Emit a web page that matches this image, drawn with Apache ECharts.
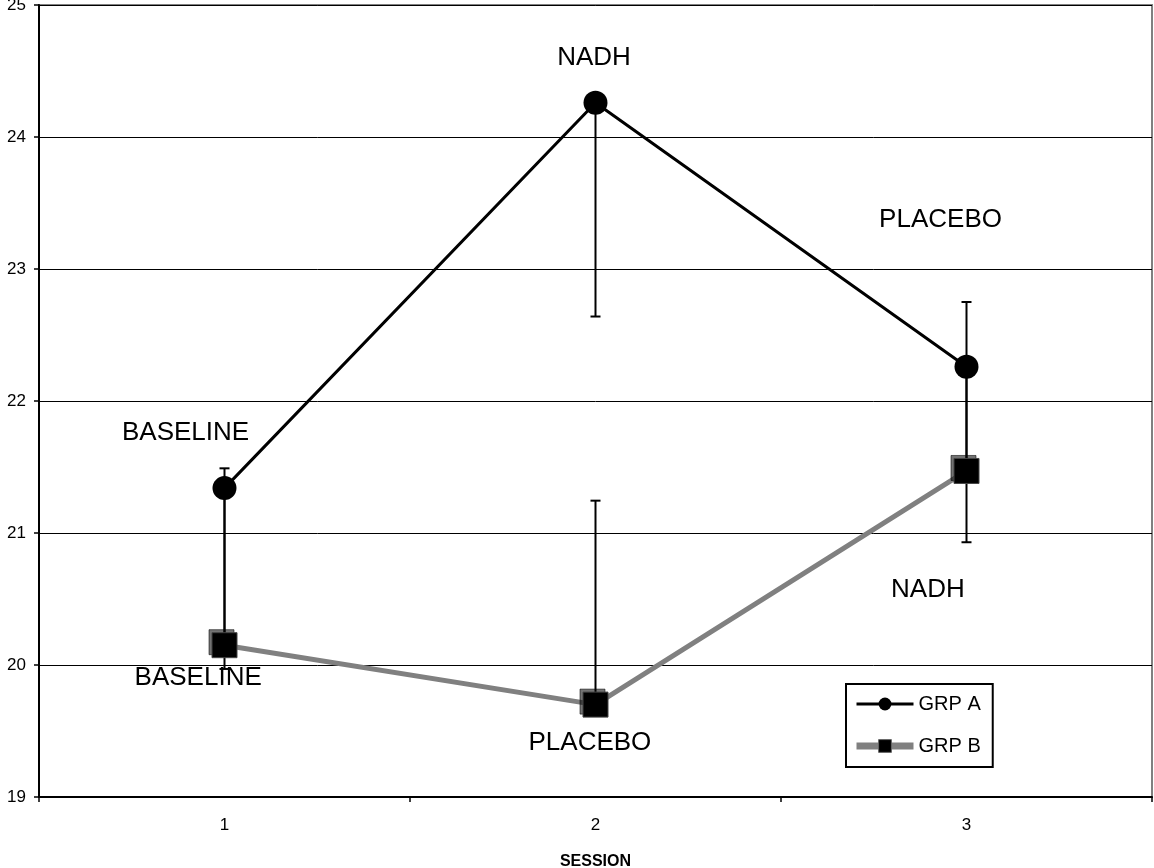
<!DOCTYPE html>
<html>
<head>
<meta charset="utf-8">
<script src="https://cdn.jsdelivr.net/npm/echarts@6/dist/echarts.min.js"></script>
<style>
html,body{margin:0;padding:0;background:#fff;}
#chart{width:1154px;height:868px;}
</style>
</head>
<body>
<div id="chart"></div>
<script>
// ---- data ----
const sessions = ['1', '2', '3'];
const grpA = [21.34, 24.26, 22.26];
const grpB = [20.15, 19.70, 21.47];
const grpALow = [19.97, 22.64, 20.93];   // lower ends of GRP A error bars
const grpBHigh = [21.49, 21.245, 22.75]; // upper ends of GRP B error bars
const yTicks = [19, 20, 21, 22, 23, 24, 25];
const annText = ['NADH', 'PLACEBO', 'BASELINE', 'BASELINE', 'PLACEBO', 'NADH'];
const annX = [1.996, 2.93, 0.895, 0.929, 1.985, 2.896];
const annY = [24.6, 23.37, 21.76, 19.9, 19.41, 20.57];

const FONT = '"Liberation Sans", Arial, sans-serif';

const chart = echarts.init(document.getElementById('chart'), null, {renderer: 'canvas'});

function errRenderer(vals, ends) {
  return function (params, api) {
    const i = params.dataIndex;
    const p0 = api.coord([sessions[i], vals[i]]);
    const p1 = api.coord([sessions[i], ends[i]]);
    const cap = 5;
    const st = {stroke: '#000', lineWidth: 2};
    return {
      type: 'group',
      children: [
        {type: 'line', shape: {x1: p0[0], y1: p0[1], x2: p1[0], y2: p1[1]}, style: st},
        {type: 'line', shape: {x1: p1[0] - cap, y1: p1[1], x2: p1[0] + cap, y2: p1[1]}, style: st}
      ]
    };
  };
}

const option = {
  animation: false,
  backgroundColor: '#fff',
  textStyle: {fontFamily: FONT},
  grid: {left: 39, right: 2, top: 5, bottom: 71, show: true, borderColor: '#808080', borderWidth: 2,
    backgroundColor: '#fff', containLabel: false, outerBoundsMode: 'none'},
  legend: {
    show: true,
    orient: 'vertical',
    left: 846, top: 684,
    padding: [10, 12, 11, 7],
    itemWidth: 57, itemHeight: 16, itemGap: 22,
    borderColor: '#000', borderWidth: 2,
    backgroundColor: '#fff',
    textStyle: {fontFamily: FONT, fontSize: 20, color: '#000'},
    data: [
      {name: 'GRP A', lineStyle: {color: '#000', width: 3}, itemStyle: {color: '#000'}},
      {name: 'GRP B', lineStyle: {color: '#808080', width: 7}, itemStyle: {color: '#000', borderColor: '#666', borderWidth: 1}}
    ],
    selectedMode: false
  },
  xAxis: [
    {
      type: 'category', data: sessions, boundaryGap: true,
      name: 'SESSION', nameLocation: 'middle', nameGap: 57,
      nameTextStyle: {fontFamily: FONT, fontSize: 16, fontWeight: 'bold', color: '#000'},
      axisLine: {lineStyle: {color: '#000', width: 2}},
      axisTick: {show: true, length: 5, lineStyle: {color: '#000', width: 1.5}},
      axisLabel: {fontFamily: FONT, fontSize: 17, color: '#000', margin: 20},
      splitLine: {show: false}
    },
    {type: 'value', min: 0.5, max: 3.5, show: false}
  ],
  yAxis: {
    type: 'value', min: 19, max: 25, interval: 1,
    axisLine: {show: true, lineStyle: {color: '#000', width: 2}},
    axisTick: {show: true, length: 5, lineStyle: {color: '#000', width: 1.5}},
    axisLabel: {fontFamily: FONT, fontSize: 17, color: '#000', margin: 13,
      formatter: v => yTicks.includes(v) ? String(v) : ''},
    splitLine: {show: true, lineStyle: {color: '#000', width: 1}}
  },
  series: [
    {
      type: 'custom', name: 'errA', xAxisIndex: 0, z: 1,
      data: sessions.map((s, i) => [s, grpALow[i]]),
      renderItem: errRenderer(grpA, grpALow), silent: true
    },
    {
      type: 'custom', name: 'errB', xAxisIndex: 0, z: 1,
      data: sessions.map((s, i) => [s, grpBHigh[i]]),
      renderItem: errRenderer(grpB, grpBHigh), silent: true
    },
    {
      name: 'GRP B', type: 'line', xAxisIndex: 0, z: 3,
      data: grpB,
      symbol: 'rect', symbolSize: 25, showAllSymbol: true,
      lineStyle: {color: '#808080', width: 5},
      itemStyle: {color: '#000', borderColor: '#444', borderWidth: 1,
        shadowColor: 'rgba(0,0,0,0.55)', shadowOffsetX: -3, shadowOffsetY: -3, shadowBlur: 0}
    },
    {
      name: 'GRP A', type: 'line', xAxisIndex: 0, z: 4,
      data: grpA,
      symbol: 'circle', symbolSize: 24, showAllSymbol: true,
      lineStyle: {color: '#000', width: 3},
      itemStyle: {color: '#000'}
    },
    {
      type: 'scatter', name: 'ann', xAxisIndex: 1, z: 5, silent: true,
      symbolSize: 0,
      itemStyle: {opacity: 1},
      data: annText.map((t, i) => ({name: t, value: [annX[i], annY[i]]})),
      label: {show: true, position: 'inside', formatter: p => p.name,
        fontFamily: FONT, fontSize: 26, color: '#000', textBorderWidth: 0}
    }
  ]
};
chart.setOption(option);
</script>
</body>
</html>
